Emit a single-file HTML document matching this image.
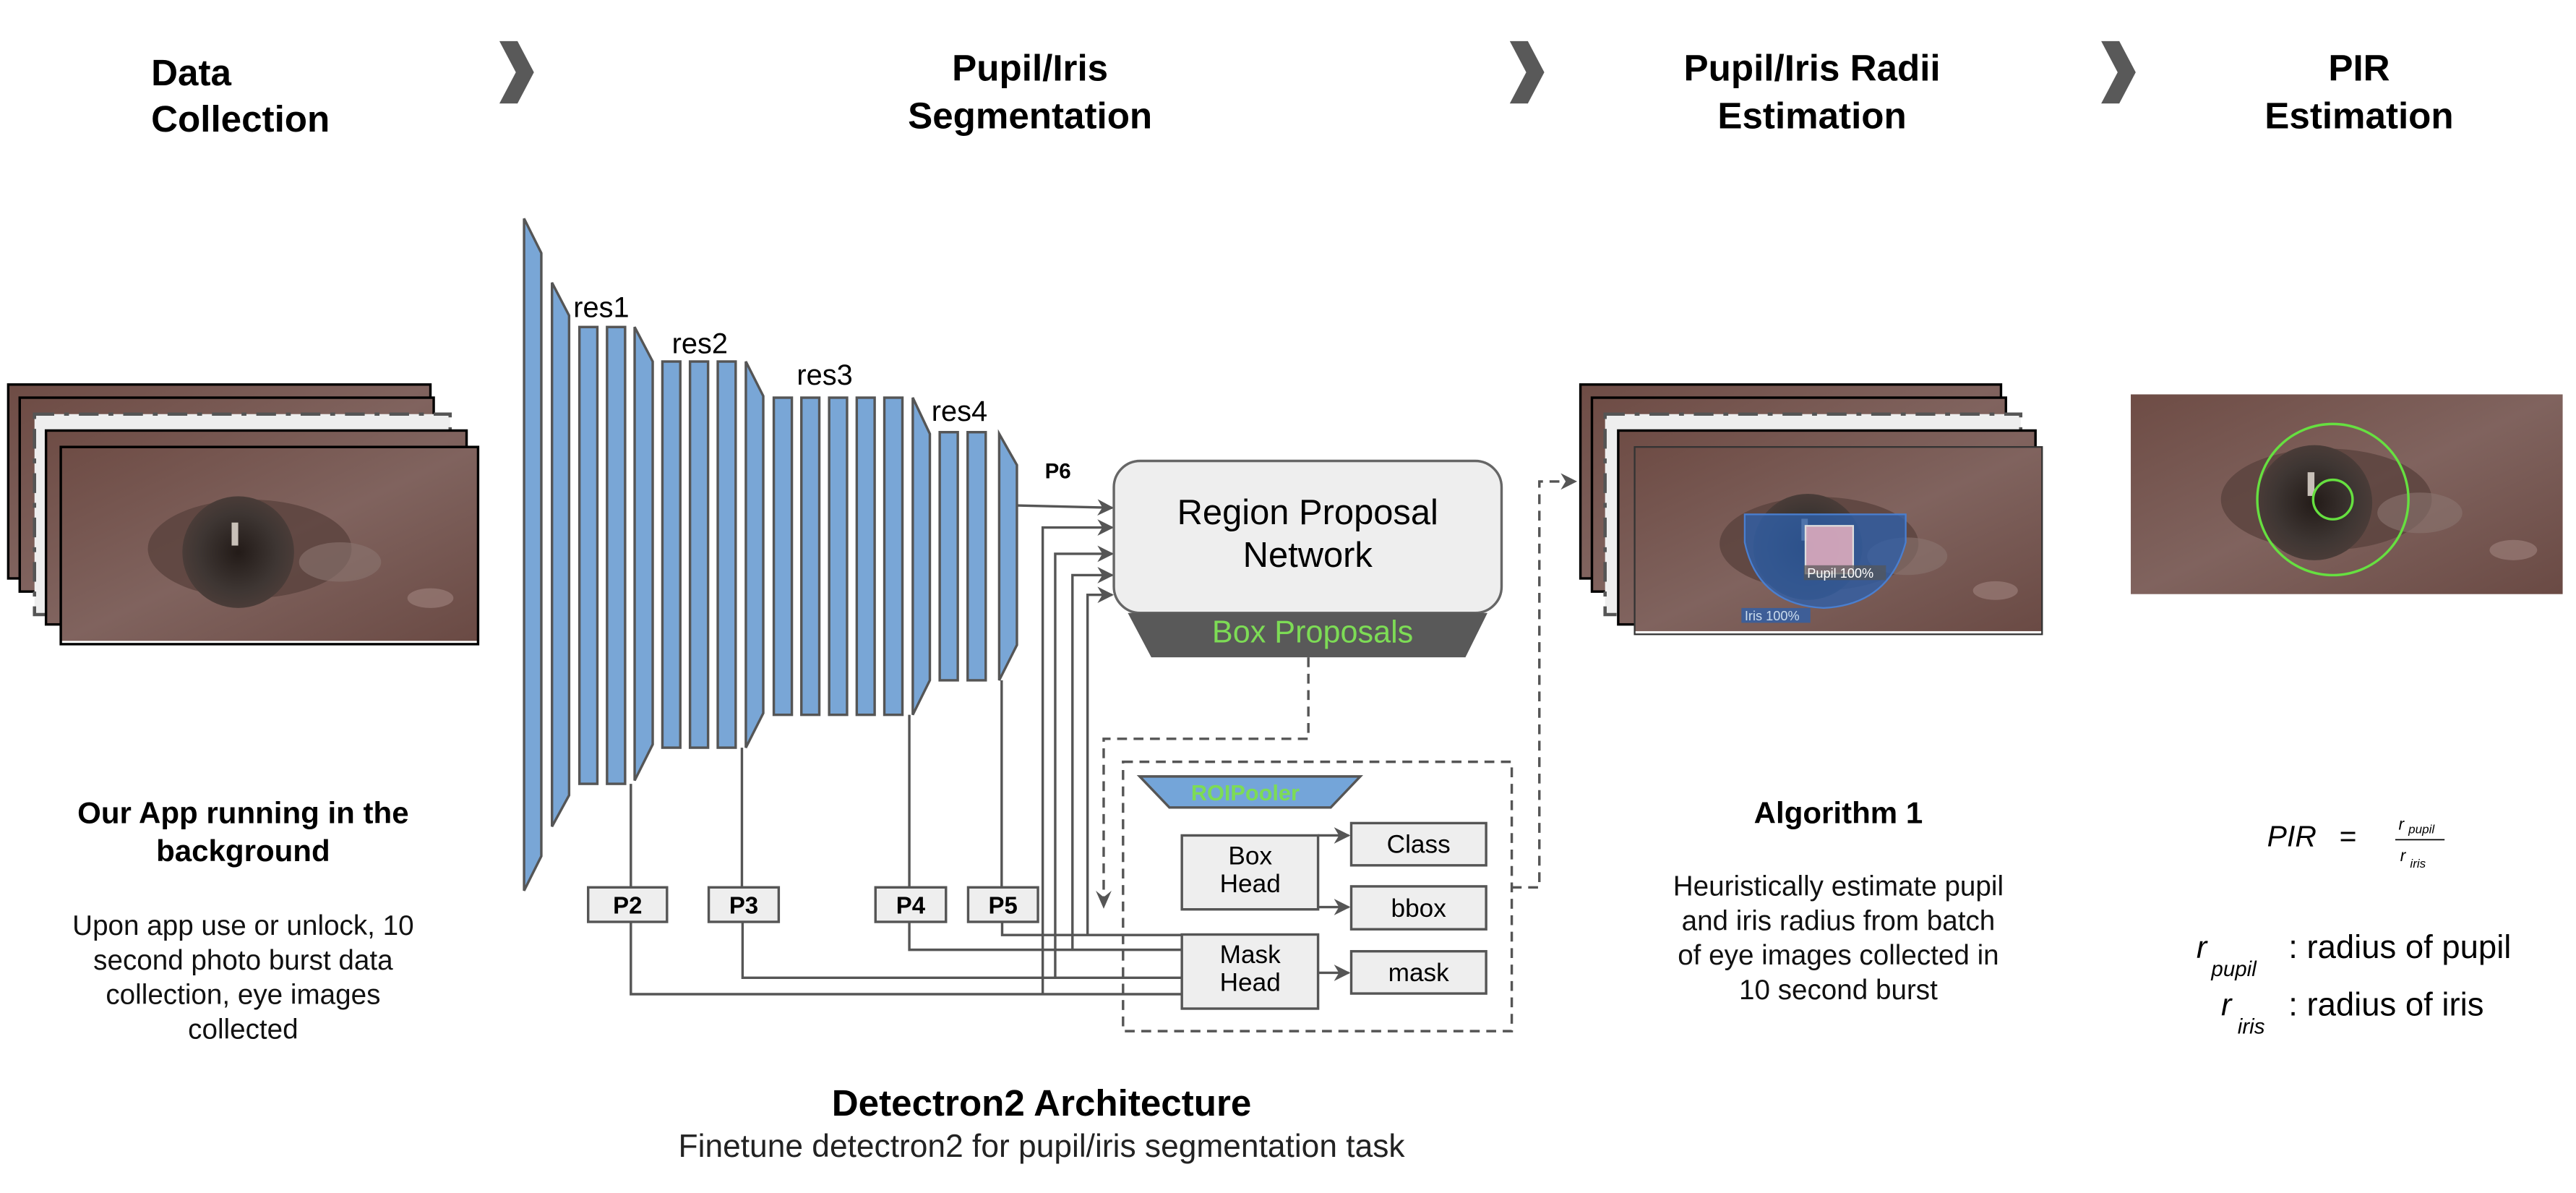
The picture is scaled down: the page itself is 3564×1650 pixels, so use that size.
<!DOCTYPE html>
<html><head><meta charset="utf-8"><style>
html,body{margin:0;padding:0;background:#fff;}
svg{display:block;}
text{font-family:"Liberation Sans",sans-serif;}
</style></head><body>
<svg width="3564" height="1650" viewBox="0 0 1568 726" preserveAspectRatio="none" xmlns="http://www.w3.org/2000/svg">
<defs>
<linearGradient id="skin" x1="0" y1="0" x2="1" y2="1">
<stop offset="0" stop-color="#6e4c45"/><stop offset="0.5" stop-color="#80635e"/><stop offset="1" stop-color="#6a4a44"/>
</linearGradient>
<radialGradient id="eye" cx="0.5" cy="0.5" r="0.5">
<stop offset="0" stop-color="#231b18"/><stop offset="0.7" stop-color="#3e3633"/><stop offset="1" stop-color="#4a3c38"/>
</radialGradient>
<marker id="ar" markerWidth="10" markerHeight="10" refX="9" refY="5" orient="auto" markerUnits="userSpaceOnUse">
<path d="M0,0 L10,5 L0,10 L3,5 Z" fill="#555"/></marker>
<g id="photo">
<rect x="0" y="0" width="254" height="118" fill="url(#skin)"/>
<ellipse cx="115" cy="62" rx="62" ry="30" fill="#5a423d" opacity="0.8"/>
<ellipse cx="108" cy="64" rx="34" ry="34" fill="url(#eye)"/>
<rect x="104" y="46" width="4" height="14" fill="#c8c0b8"/>
<ellipse cx="170" cy="70" rx="25" ry="12" fill="#8a7470" opacity="0.6"/>
<ellipse cx="225" cy="92" rx="14" ry="6" fill="#a0847e" opacity="0.6"/>
</g>
</defs>

<!-- headers -->
<g font-weight="bold" font-size="22.5" fill="#000">
<text x="92" y="52">Data</text><text x="92" y="80">Collection</text>
<text x="627" y="49" text-anchor="middle">Pupil/Iris</text><text x="627" y="78" text-anchor="middle">Segmentation</text>
<text x="1103" y="49" text-anchor="middle">Pupil/Iris Radii</text><text x="1103" y="78" text-anchor="middle">Estimation</text>
<text x="1436" y="49" text-anchor="middle">PIR</text><text x="1436" y="78" text-anchor="middle">Estimation</text>
</g>
<g fill="#595959">
<polygon points="304,25 315,25 325,44 315,63 304,63 314,44"/>
<polygon points="919,25 930,25 940,44 930,63 919,63 929,44"/>
<polygon points="1279,25 1290,25 1300,44 1290,63 1279,63 1289,44"/>
</g>

<!-- left photos -->
<rect x="5" y="234" width="257" height="118" fill="url(#skin)" stroke="#000" stroke-width="1.5"/>
<rect x="12" y="242" width="252" height="118" fill="url(#skin)" stroke="#000" stroke-width="1.5"/>
<rect x="21" y="252" width="253" height="122" fill="#eeeeee" stroke="#555" stroke-width="2" stroke-dasharray="12,6,3,6"/>
<rect x="28" y="262" width="256" height="118" fill="url(#skin)" stroke="#000" stroke-width="1.5"/>
<g transform="translate(37,272)"><use href="#photo"/><rect width="254" height="120" fill="none" stroke="#000" stroke-width="1.5"/></g>

<text x="148" y="501" text-anchor="middle" font-weight="bold" font-size="18.5">Our App running in the</text>
<text x="148" y="524" text-anchor="middle" font-weight="bold" font-size="18.5">background</text>
<g font-size="17" text-anchor="middle" fill="#111">
<text x="148" y="569">Upon app use or unlock, 10</text>
<text x="148" y="590">second photo burst data</text>
<text x="148" y="611">collection, eye images</text>
<text x="148" y="632">collected</text>
</g>

<!-- network -->
<g fill="#79a6d6" stroke="#555" stroke-width="1.5">
<polygon points="319,133 329.5,154 329.5,521 319,542"/>
<polygon points="336,172 346.4,192 346.4,484 336,503"/>
<rect x="352.7" y="199" width="10.9" height="278"/>
<rect x="369.5" y="199" width="11" height="278"/>
<polygon points="386.3,199 397.3,220 397.3,453 386.3,475"/>
<rect x="403.2" y="220" width="10.9" height="235"/>
<rect x="420" y="220" width="11" height="235"/>
<rect x="436.9" y="220" width="10.9" height="235"/>
<polygon points="454,220 464.6,241 464.6,434 454,455"/>
<rect x="471" y="242" width="11" height="193"/>
<rect x="487.8" y="242" width="10.9" height="193"/>
<rect x="504.7" y="242" width="10.9" height="193"/>
<rect x="521.5" y="242" width="10.9" height="193"/>
<rect x="538.3" y="242" width="11" height="193"/>
<polygon points="555.6,242 566,264 566,414 555.6,435"/>
<rect x="572" y="263" width="11" height="151"/>
<rect x="589" y="263" width="11" height="151"/>
<polygon points="608.2,264 619,283 619,392.5 608.2,414"/>
</g>
<g font-size="17.5" fill="#000">
<text x="349" y="193">res1</text><text x="409" y="215">res2</text>
<text x="485" y="234">res3</text><text x="567" y="256">res4</text>
</g>
<text x="636" y="291" font-size="13" font-weight="bold">P6</text>

<!-- connectors -->
<g fill="none" stroke="#555" stroke-width="1.5">
<line x1="384" y1="477" x2="384" y2="540"/>
<line x1="451.6" y1="455" x2="451.6" y2="540"/>
<line x1="553.5" y1="435" x2="553.5" y2="540"/>
<line x1="609.7" y1="414" x2="609.7" y2="540"/>
<polyline points="384,561 384,605 719,605"/>
<polyline points="452,561 452,595 719,595"/>
<polyline points="553.5,561 553.5,578 719,578"/>
<polyline points="610,561 610,569 719,569"/>
<line x1="619" y1="307.6" x2="677" y2="309" marker-end="url(#ar)"/>
<polyline points="634.7,605 634.7,321 677,321" marker-end="url(#ar)"/>
<polyline points="642.3,595 642.3,337 677,337" marker-end="url(#ar)"/>
<polyline points="652.8,578 652.8,350 677,350" marker-end="url(#ar)"/>
<polyline points="662,569 662,362 677,362" marker-end="url(#ar)"/>
<line x1="802.3" y1="508.4" x2="821" y2="508.4" marker-end="url(#ar)"/>
<line x1="802.3" y1="552" x2="821" y2="552" marker-end="url(#ar)"/>
<line x1="802.3" y1="592" x2="821" y2="592" marker-end="url(#ar)"/>
</g>
<g fill="#eeeeee" stroke="#555" stroke-width="1.5">
<rect x="358" y="540" width="48" height="21"/>
<rect x="431.4" y="540" width="42.6" height="21"/>
<rect x="532.9" y="540" width="42.9" height="21"/>
<rect x="589.3" y="540" width="42.5" height="21"/>
</g>
<g font-size="14.5" font-weight="bold" text-anchor="middle">
<text x="382" y="556">P2</text><text x="452.7" y="556">P3</text>
<text x="554.3" y="556">P4</text><text x="610.5" y="556">P5</text>
</g>

<!-- RPN -->
<rect x="678" y="280.5" width="236" height="92.5" rx="16" fill="#eeeeee" stroke="#666" stroke-width="1.5"/>
<polygon points="686.5,373 905.4,373 892,400 700.8,400" fill="#595959"/>
<text x="796" y="319" text-anchor="middle" font-size="21.5">Region Proposal</text>
<text x="796" y="345" text-anchor="middle" font-size="21.5">Network</text>
<text x="799" y="391" text-anchor="middle" font-size="19" fill="#7ddc55">Box Proposals</text>

<!-- dashed -->
<g fill="none" stroke="#555" stroke-width="1.5" stroke-dasharray="6,4">
<polyline points="796.4,400 796.4,449.6 671.8,449.6 671.8,550"/>
<rect x="683.6" y="463.6" width="236.6" height="163.9"/>
<polyline points="920.2,540 937,540 937,293 956,293"/>
</g>
<path d="M667,542 L671.8,553 L676.6,542 L671.8,546 Z" fill="#555"/>
<path d="M950,288 L960,293 L950,298 L953,293 Z" fill="#555"/>

<polygon points="693.7,472.5 828,472.5 810,491.4 711.8,491.4" fill="#74a5d9" stroke="#555" stroke-width="1.5"/>
<text x="758" y="487" text-anchor="middle" font-size="13.5" font-weight="bold" fill="#7ddc55">ROIPooler</text>
<g fill="#eeeeee" stroke="#555" stroke-width="1.5">
<rect x="719.4" y="508.4" width="82.9" height="45"/>
<rect x="822.5" y="500.9" width="82.1" height="25.7"/>
<rect x="822.5" y="539.4" width="82.1" height="26.1"/>
<rect x="719.4" y="568.7" width="82.9" height="45.1"/>
<rect x="822.5" y="578.9" width="82.1" height="25.7"/>
</g>
<g font-size="15.5" text-anchor="middle">
<text x="761" y="526">Box</text><text x="761" y="543">Head</text>
<text x="863.5" y="519">Class</text><text x="863.5" y="558">bbox</text>
<text x="761" y="586">Mask</text><text x="761" y="603">Head</text>
<text x="863.5" y="597">mask</text>
</g>

<text x="634" y="679" text-anchor="middle" font-size="22.5" font-weight="bold">Detectron2 Architecture</text>
<text x="634" y="704" text-anchor="middle" font-size="19.5" fill="#222">Finetune detectron2 for pupil/iris segmentation task</text>

<!-- panel 3 -->
<rect x="962" y="234" width="256" height="118" fill="url(#skin)" stroke="#000" stroke-width="1.5"/>
<rect x="969" y="242" width="252" height="118" fill="url(#skin)" stroke="#000" stroke-width="1.5"/>
<rect x="977" y="252" width="253" height="122" fill="#eeeeee" stroke="#555" stroke-width="2" stroke-dasharray="12,6,3,6"/>
<rect x="985" y="262" width="254" height="118" fill="url(#skin)" stroke="#000" stroke-width="1.5"/>
<g transform="translate(995,272) scale(0.976,0.95)"><use href="#photo"/></g>
<rect x="995" y="272" width="248" height="114" fill="none" stroke="#333" stroke-width="1"/>
<path d="M1062,313 L1160,313 L1160,330 Q1150,368 1110,370 Q1070,368 1062,330 Z" fill="#2f5fa8" fill-opacity="0.8" stroke="#4a7fd0" stroke-width="1"/>
<rect x="1099" y="320" width="29" height="29" fill="#e8b0c0" fill-opacity="0.85" stroke="#ddd" stroke-width="1"/>
<rect x="1098" y="344" width="50" height="9" fill="#555" fill-opacity="0.7"/>
<text x="1100" y="351.5" font-size="8" fill="#fff">Pupil 100%</text>
<rect x="1060" y="370" width="42" height="9" fill="#2f5fa8" fill-opacity="0.8"/>
<text x="1062" y="377.5" font-size="8" fill="#cde">Iris 100%</text>

<text x="1119" y="501" text-anchor="middle" font-size="18.5" font-weight="bold">Algorithm 1</text>
<g font-size="17" text-anchor="middle" fill="#111">
<text x="1119" y="545">Heuristically estimate pupil</text>
<text x="1119" y="566">and iris radius from batch</text>
<text x="1119" y="587">of eye images collected in</text>
<text x="1119" y="608">10 second burst</text>
</g>

<!-- panel 4 -->
<g transform="translate(1297,240) scale(1.035,1.03)"><use href="#photo"/></g>
<circle cx="1420" cy="304" r="46" fill="none" stroke="#66e040" stroke-width="1.5"/>
<circle cx="1420" cy="304" r="12" fill="none" stroke="#66e040" stroke-width="1.5"/>

<g font-family="'DejaVu Serif','Liberation Serif',serif" font-style="italic">
<text x="1380" y="515" font-size="18">PIR</text>
<text x="1460" y="505" font-size="10">r</text><text x="1466" y="507" font-size="7.5">pupil</text>
<text x="1461" y="524" font-size="10">r</text><text x="1467" y="528" font-size="7.5">iris</text>
<text x="1337" y="583" font-size="19">r</text><text x="1346" y="594" font-size="13">pupil</text>
<text x="1352" y="618" font-size="19">r</text><text x="1362" y="629" font-size="13">iris</text>
</g>
<text x="1424" y="515" font-size="18">=</text>
<line x1="1458" y1="511" x2="1488" y2="511" stroke="#000" stroke-width="0.8"/>
<text x="1393" y="583" font-size="20">: radius of pupil</text>
<text x="1393" y="618" font-size="20">: radius of iris</text>
</svg>
</body></html>
